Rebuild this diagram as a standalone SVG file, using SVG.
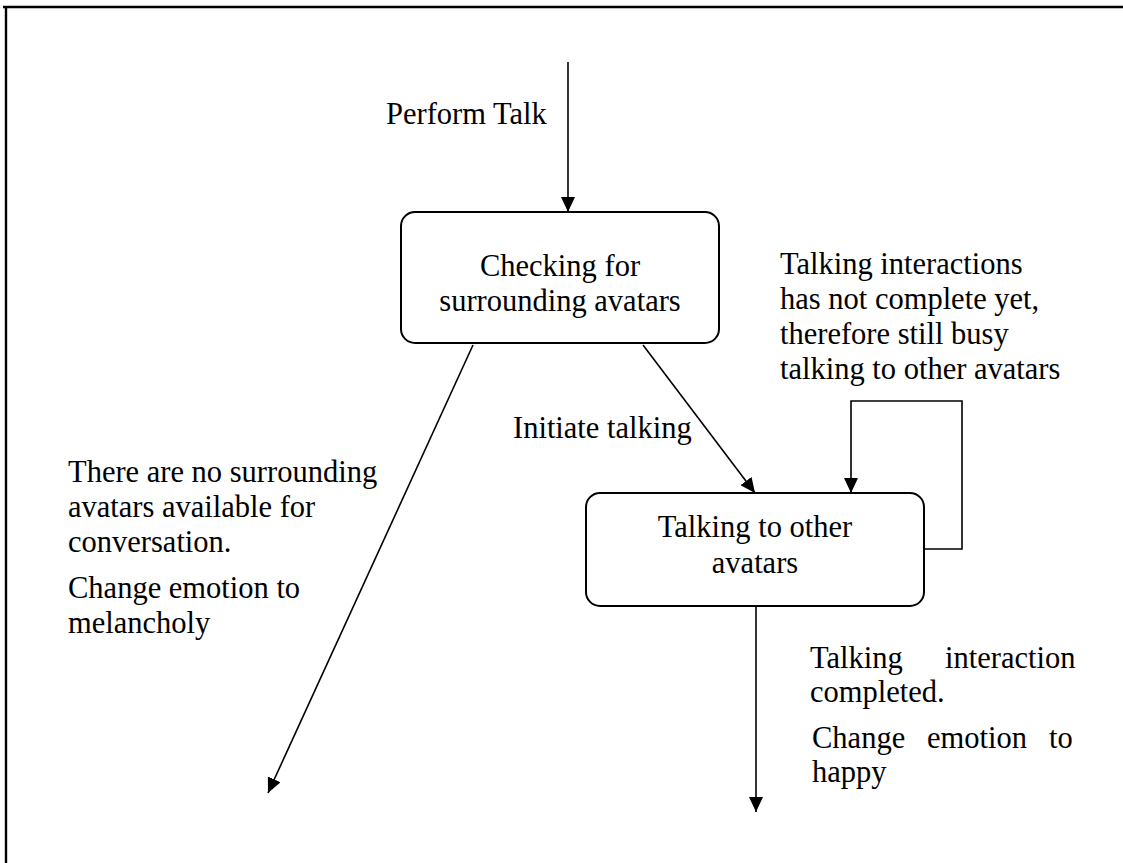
<svg xmlns="http://www.w3.org/2000/svg" width="1123" height="863" viewBox="0 0 1123 863">
  <style>
    .frame { stroke: #000; stroke-width: 2.4; fill: none; }
    .state { fill: #fff; stroke: #000; stroke-width: 2; }
    .edge { stroke: #000; stroke-width: 1.6; fill: none; }
    text { font-family: "Liberation Serif", "Times New Roman", serif; font-size: 30.5px; fill: #000; }
    .c { text-anchor: middle; }
  </style>
  <defs>
    <marker id="arrow" markerUnits="userSpaceOnUse" markerWidth="16" markerHeight="14" refX="15" refY="7" orient="auto">
      <path d="M0,0 L15,7 L0,14 z" fill="#000"/>
    </marker>
  </defs>

  <rect width="1123" height="863" fill="#fff"/>

  <!-- page border (top and left only) -->
  <g id="border">
    <line class="frame" x1="3" y1="7" x2="1123" y2="7"/>
    <line class="frame" x1="6" y1="7" x2="6" y2="863"/>
  </g>

  <!-- states -->
  <g id="checking">
    <rect class="state" x="401" y="212" width="318" height="131" rx="14"/>
    <text class="c" x="560" y="276">Checking for</text>
    <text class="c" x="560" y="311">surrounding avatars</text>
  </g>

  <g id="talking">
    <rect class="state" x="586" y="493" width="338" height="113" rx="14"/>
    <text class="c" x="755" y="537">Talking to other</text>
    <text class="c" x="755" y="573">avatars</text>
  </g>

  <!-- transitions -->
  <g id="connectors">
    <line class="edge" x1="568" y1="62" x2="568" y2="212" marker-end="url(#arrow)"/>
    <line class="edge" x1="643" y1="345" x2="755" y2="493" marker-end="url(#arrow)"/>
    <line class="edge" x1="473" y1="345" x2="268" y2="793" marker-end="url(#arrow)"/>
    <polyline class="edge" points="924,549 962,549 962,401 851,401 851,493" marker-end="url(#arrow)"/>
    <line class="edge" x1="756" y1="606" x2="756" y2="812" marker-end="url(#arrow)"/>
  </g>

  <!-- transition labels -->
  <g id="labels">
    <text x="386" y="124">Perform Talk</text>
    <text x="513" y="438">Initiate talking</text>

    <text x="780" y="274">Talking interactions</text>
    <text x="780" y="309">has not complete yet,</text>
    <text x="780" y="344">therefore still busy</text>
    <text x="780" y="379">talking to other avatars</text>

    <text x="68" y="482">There are no surrounding</text>
    <text x="68" y="517">avatars available for</text>
    <text x="68" y="552">conversation.</text>
    <text x="68" y="598">Change emotion to</text>
    <text x="68" y="633">melancholy</text>

    <text y="668"><tspan x="810">Talking</tspan><tspan x="945">interaction</tspan></text>
    <text x="810" y="702">completed.</text>
    <text y="748"><tspan x="812">Change</tspan><tspan x="927">emotion</tspan><tspan x="1049">to</tspan></text>
    <text x="812" y="782">happy</text>
  </g>
</svg>
